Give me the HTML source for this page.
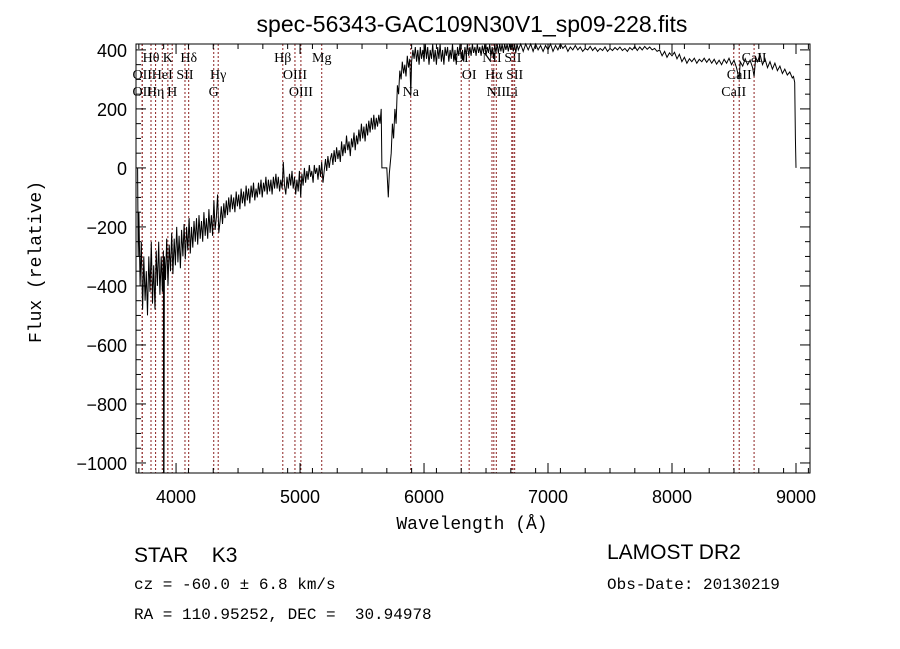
<!DOCTYPE html>
<html><head><meta charset="utf-8"><style>
body{margin:0;background:#fff;width:900px;height:649px;overflow:hidden}
svg{display:block}
text{white-space:pre}
</style></head><body>
<svg id="chart" width="900" height="649" xmlns="http://www.w3.org/2000/svg">
<rect width="900" height="649" fill="#fff"/>
<text x="472" y="32" text-anchor="middle" font-family="Liberation Sans, sans-serif" font-size="23">spec-56343-GAC109N30V1_sp09-228.fits</text>
<g id="lines"></g>
<g id="ticks"></g>
<path id="spec" fill="none" stroke="#000" stroke-width="1"/>
<rect x="136" y="44" width="674" height="429" fill="none" stroke="#000" stroke-width="1"/>
<text x="472" y="529" text-anchor="middle" font-family="Liberation Mono, monospace" font-size="18">Wavelength (Å)</text>
<text transform="translate(41,262) rotate(-90)" text-anchor="middle" font-family="Liberation Mono, monospace" font-size="18">Flux (relative)</text>
<text x="134" y="562" font-family="Liberation Sans, sans-serif" font-size="21">STAR    K3</text>
<text x="134" y="589" font-family="Liberation Mono, monospace" font-size="16">cz = -60.0 ± 6.8 km/s</text>
<text x="134" y="619" font-family="Liberation Mono, monospace" font-size="16">RA = 110.95252, DEC =  30.94978</text>
<text x="607" y="559" font-family="Liberation Sans, sans-serif" font-size="21">LAMOST DR2</text>
<text x="607" y="589" font-family="Liberation Mono, monospace" font-size="16">Obs-Date: 20130219</text>
</svg>
<script>
const wavelengths=[
3690,3695,3700,3710,3720,3730,3740,3750,3760,3770,
3780,3790,3800,3810,3820,3830,3840,3850,3860,3870,
3880,3890,3898,3900,3903,3906,3915,3925,3935,3945,
3955,3965,3975,3985,3995,4005,4015,4025,4035,4045,
4055,4065,4075,4085,4095,4105,4115,4125,4135,4145,
4155,4165,4175,4185,4195,4205,4215,4225,4235,4245,
4255,4265,4275,4285,4295,4305,4315,4325,4335,4345,
4355,4365,4375,4385,4395,4405,4415,4425,4435,4445,
4455,4465,4475,4485,4495,4505,4515,4525,4535,4545,
4555,4565,4575,4585,4595,4605,4615,4625,4635,4645,
4655,4665,4675,4685,4695,4705,4715,4725,4735,4745,
4755,4765,4775,4785,4795,4805,4815,4825,4835,4845,
4855,4865,4875,4885,4895,4905,4915,4925,4935,4945,
4955,4965,4975,4985,4995,5005,5015,5025,5035,5045,
5055,5065,5075,5085,5095,5105,5115,5125,5135,5145,
5155,5165,5175,5185,5195,5205,5215,5225,5235,5245,
5255,5265,5275,5285,5295,5305,5315,5325,5335,5345,
5355,5365,5375,5385,5395,5405,5415,5425,5435,5445,
5455,5465,5475,5485,5495,5505,5515,5525,5535,5545,
5555,5565,5575,5585,5595,5605,5615,5625,5635,5645,
5655,5660,5700,5705,5712,5720,5735,5745,5755,5765,
5775,5785,5795,5805,5815,5825,5835,5845,5855,5865,
5875,5885,5893,5900,5910,5920,5930,5940,5950,5960,
5970,5980,5990,6000,6010,6020,6030,6040,6050,6060,
6070,6080,6090,6100,6110,6120,6130,6140,6150,6160,
6170,6180,6190,6200,6210,6220,6230,6240,6250,6260,
6270,6280,6290,6300,6310,6320,6330,6340,6350,6360,
6370,6380,6390,6400,6410,6420,6430,6440,6450,6460,
6470,6480,6490,6500,6510,6520,6530,6540,6550,6560,
6570,6580,6590,6600,6610,6620,6630,6640,6650,6660,
6670,6680,6690,6700,6710,6720,6730,6740,6750,6760,
6780,6800,6820,6840,6860,6880,6900,6920,6940,6960,
6980,7000,7020,7040,7060,7080,7100,7120,7140,7160,
7180,7200,7220,7240,7260,7280,7300,7320,7340,7360,
7380,7400,7420,7440,7460,7480,7500,7520,7540,7560,
7580,7600,7620,7640,7660,7680,7700,7720,7740,7760,
7780,7800,7820,7840,7860,7880,7900,7920,7940,7960,
7980,8000,8020,8040,8060,8080,8100,8120,8140,8160,
8180,8200,8220,8240,8260,8280,8300,8320,8340,8360,
8380,8400,8420,8440,8460,8480,8500,8520,8542,8550,
8570,8590,8610,8630,8650,8662,8675,8690,8710,8730,
8750,8770,8790,8810,8830,8850,8870,8890,8910,8930,
8950,8970,8980,8990,8995,9000];
const flux=[
0,-300,-150,-400,-250,-480,-300,-450,-350,-500,
-300,-420,-250,-460,-330,-480,-280,-400,-250,-430,
-300,-420,-280,-1034,-1034,-300,-380,-240,-400,-260,
-350,-220,-360,-240,-330,-200,-320,-230,-340,-210,
-300,-190,-310,-200,-280,-170,-290,-200,-270,-180,
-250,-170,-260,-160,-240,-180,-250,-150,-230,-170,
-240,-140,-220,-160,-230,-110,-210,-170,-90,-220,
-180,-130,-190,-120,-170,-110,-160,-100,-150,-90,
-140,-100,-150,-80,-130,-90,-140,-70,-120,-80,
-130,-60,-110,-70,-120,-60,-100,-50,-110,-70,
-100,-50,-90,-40,-100,-50,-80,-30,-90,-40,
-80,-40,-90,-30,-70,-20,-70,-30,-80,-40,
-70,20,-60,-90,-30,-70,-20,-60,-10,-70,
-30,-90,-40,-80,-10,-100,-20,-60,0,-50,
-10,-40,10,-30,-10,-50,10,-20,0,-40,
10,-30,20,-50,-10,30,-10,40,0,30,
50,10,60,20,70,30,60,20,90,40,
80,50,110,60,90,40,100,70,120,60,
110,80,130,90,150,100,140,90,150,110,
160,120,170,130,180,130,170,140,180,150,
200,0,0,-40,-100,-20,50,150,100,200,
150,280,250,330,300,360,320,350,310,380,
340,370,250,360,400,370,410,360,400,350,
410,370,400,360,420,370,410,350,400,370,
420,360,400,350,410,370,420,360,400,350,
410,380,410,360,400,370,420,360,400,350,
410,380,420,370,400,360,410,380,420,380,
410,380,420,390,410,380,420,390,410,380,
415,390,420,380,410,390,420,380,410,370,
420,390,425,390,420,395,425,390,420,400,
425,395,430,400,425,395,420,390,425,400,
420,395,420,400,425,395,420,400,415,395,
415,400,420,395,415,400,420,405,415,395,
410,400,415,400,410,395,405,400,412,398,
408,395,405,398,410,395,405,398,408,400,
410,398,405,395,408,400,412,398,410,400,
412,402,410,400,405,395,400,380,395,375,
390,380,392,370,385,360,375,355,370,360,
372,355,368,360,372,358,370,355,368,352,
365,350,368,355,372,350,365,340,300,360,
345,370,350,365,340,310,375,360,385,350,
370,340,360,335,355,330,345,320,335,315,
325,305,310,290,100,0];
const xTicks=[4000,5000,6000,7000,8000,9000];
const yTicks=[400,200,0,-200,-400,-600,-800,-1000];
const lineWaves=[3798,3934,4102,4861,5175,6300,6548,6717,8662,3727,3889,4072,4340,4959,6364,6563,6731,8542,3727,3835,3969,4304,5007,5893,6583,6708,8498];
const lineNames=["Hθ","K","Hδ","Hβ","Mg","OI","NII","SII","CaII","OII","HeI","SII","Hγ","OIII","OI","Hα","SII","CaII","OII","Hη","H","G","OIII","Na","NII","Li","CaII"];
const lineRows=[0,0,0,0,0,0,0,0,0,1,1,1,1,1,1,1,1,1,2,2,2,2,2,2,2,2,2];
const X0=136,X1=810,Y0=473,Y1=44,XMIN=3677,XMAX=9113,YMIN=-1034,YMAX=420;
const sx=w=>X0+(w-XMIN)/(XMAX-XMIN)*(X1-X0);
const sy=f=>Y0-(Math.max(YMIN,Math.min(YMAX,f))-YMIN)/(YMAX-YMIN)*(Y0-Y1);
const NS="http://www.w3.org/2000/svg";
let d="";
const n=Math.min(wavelengths.length,flux.length);
for(let i=0;i<n;i++){d+=(i?"L":"M")+sx(wavelengths[i]).toFixed(1)+","+sy(flux[i]).toFixed(1);}
document.getElementById("spec").setAttribute("d",d);
const lg=document.getElementById("lines");
lineWaves.forEach((w,i)=>{
  const x=sx(w);
  const l=document.createElementNS(NS,"line");
  
  
  l.setAttribute("x1",x);l.setAttribute("x2",x);l.setAttribute("y1",Y1);l.setAttribute("y2",Y0);
  l.setAttribute("stroke","#8b2020");l.setAttribute("stroke-dasharray","2,2");l.setAttribute("stroke-width","1");
  lg.appendChild(l);
  const t=document.createElementNS(NS,"text");
  
  
  t.setAttribute("x",x);t.setAttribute("y",62+lineRows[i]*17);t.setAttribute("text-anchor","middle");
  t.setAttribute("font-family","Liberation Serif, serif");t.setAttribute("font-size","14");
  t.textContent=lineNames[i];lg.appendChild(t);
});
const tg=document.getElementById("ticks");
function ln(x1,y1,x2,y2){const l=document.createElementNS(NS,"line");l.setAttribute("x1",x1);l.setAttribute("y1",y1);l.setAttribute("x2",x2);l.setAttribute("y2",y2);l.setAttribute("stroke","#000");tg.appendChild(l);}
for(let w=3700;w<=9100;w+=200){const x=sx(w);const big=w%1000===0;ln(x,Y0,x,Y0-(big?10:5));ln(x,Y1,x,Y1+(big?10:5));}
for(let w=4000;w<=9000;w+=1000){const x=sx(w);ln(x,Y0,x,Y0-10);ln(x,Y1,x,Y1+10);}
for(let f=-1000;f<=400;f+=50){const y=sy(f);const big=f%200===0;ln(X0,y,X0+(big?10:5),y);ln(X1,y,X1-(big?10:5),y);}
xTicks.forEach(w=>{const t=document.createElementNS(NS,"text");


t.setAttribute("x",sx(w));t.setAttribute("y",503);t.setAttribute("text-anchor","middle");t.setAttribute("font-family","Liberation Sans, sans-serif");t.setAttribute("font-size","18");t.textContent=w;tg.appendChild(t);});
yTicks.forEach(f=>{const t=document.createElementNS(NS,"text");


t.setAttribute("x",127);t.setAttribute("y",sy(f)+7);t.setAttribute("text-anchor","end");t.setAttribute("font-family","Liberation Sans, sans-serif");t.setAttribute("font-size","18");t.textContent=(f<0?"−":"")+Math.abs(f);tg.appendChild(t);});
</script>
</body></html>
